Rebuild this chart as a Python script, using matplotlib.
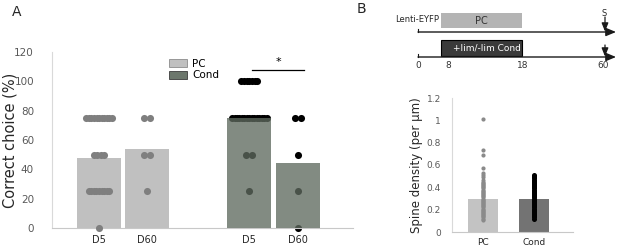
import matplotlib
matplotlib.use("Agg")
import matplotlib.pyplot as plt
import numpy as np
from matplotlib.patches import Rectangle, Patch

# ---------------- data ----------------
days = ["D5", "D60", "D5", "D60"]
groups = ["PC", "Cond"]
pc_means = [48, 54]
cond_means = [75, 44]
pc_d5 = [75]*11 + [50]*4 + [25]*9 + [0]
pc_d60 = [75, 75, 50, 50, 25]
cond_d5 = [100]*7 + [75]*15 + [50, 50, 25]
cond_d60 = [75, 75, 50, 25, 0]
sig_level = 108

time_labels = ["0", "8", "18", "60"]
spine_groups = ["PC", "Cond"]
spine_means = [0.30, 0.30]
spine_pc = [0.11, 0.12, 0.13, 0.14, 0.15, 0.16, 0.17, 0.18, 0.19, 0.20, 0.21,
            0.22, 0.23, 0.24, 0.25, 0.26, 0.27, 0.28, 0.29, 0.30, 0.31, 0.32,
            0.33, 0.34, 0.35, 0.36, 0.37, 0.38, 0.39, 0.40, 0.41, 0.42, 0.43,
            0.44, 0.45, 0.47, 0.49, 0.51, 0.53, 0.57, 0.69, 0.73, 1.01]
spine_cond = [0.12, 0.13, 0.14, 0.15, 0.16, 0.17, 0.18, 0.19, 0.20, 0.21,
              0.22, 0.23, 0.24, 0.25, 0.26, 0.27, 0.28, 0.29, 0.30, 0.31,
              0.32, 0.33, 0.34, 0.35, 0.36, 0.37, 0.38, 0.39, 0.40, 0.41,
              0.42, 0.43, 0.44, 0.45, 0.46, 0.47, 0.48, 0.49, 0.50, 0.51]

# ---------------- layout helpers ----------------
W, H = 617, 246
fig = plt.figure(figsize=(W/100, H/100), dpi=100)

def ax_px(x0, y0, x1, y1):
    return fig.add_axes([x0/W, 1-y1/H, (x1-x0)/W, (y1-y0)/H])

PC_BAR = "#c0c0c0"
PC_DOT = "#7f7f7f"
COND_BAR = "#5f6a5f"
TICK_COL = "#595959"
SPINE_COL = "#d9d9d9"

def swarm_offsets(vals):
    vals = np.asarray(vals, dtype=float)
    off = np.zeros_like(vals)
    for v in np.unique(vals):
        idx = np.where(vals == v)[0]
        n = len(idx)
        s = 0.05 + 0.3 / n**2
        off[idx] = (np.arange(n) - (n-1)/2) * s
    return off

# ---------------- Panel A ----------------
axA = ax_px(52, 52, 353, 228)
pos = [0, 1, 3.13, 4.15]
bw = 0.92
axA.bar(pos[:2], pc_means, width=bw, color=PC_BAR, zorder=1)
for p, d in zip(pos[:2], [pc_d5, pc_d60]):
    axA.scatter(p + swarm_offsets(d), d, s=26, color=PC_DOT, zorder=3, linewidths=0, clip_on=False)
for p, d in zip(pos[2:], [cond_d5, cond_d60]):
    axA.scatter(p + swarm_offsets(d), d, s=26, color="black", zorder=2, linewidths=0, clip_on=False)
axA.bar(pos[2:], cond_means, width=bw, color=COND_BAR, alpha=0.78, zorder=4)

axA.set_xlim(-0.98, 5.29)
axA.set_ylim(0, 120)
axA.set_yticks(range(0, 121, 20))
axA.set_xticks(pos)
axA.set_xticklabels(days)
axA.tick_params(axis="y", length=0, pad=13, labelsize=7.5, labelcolor=TICK_COL)
axA.tick_params(axis="x", length=0, pad=5, labelsize=7, labelcolor="#262626")
for s in ["top", "right"]:
    axA.spines[s].set_visible(False)
axA.spines["left"].set_color(SPINE_COL)
axA.spines["bottom"].set_color("#c8c8c8")
axA.set_ylabel("Correct choice (%)", fontsize=10.5, color="#262626")
axA.yaxis.set_label_coords(-0.113, 0.5)

axA.plot([pos[2] + 0.06, pos[3] + 0.12], [sig_level, sig_level], color="black", lw=0.9)
axA.text((pos[2] + pos[3]) / 2 + 0.09, sig_level + 1.5, "*", ha="center", va="bottom", fontsize=8)

handles = [Patch(facecolor=PC_BAR, edgecolor="#8c8c8c", lw=0.6),
           Patch(facecolor="#6c776c", edgecolor="#3c3c3c", lw=0.6)]
axA.legend(handles, groups, loc="upper left", bbox_to_anchor=(0.375, 0.985),
           frameon=False, fontsize=7.5, handlelength=1.7, handleheight=0.75,
           handletextpad=0.5, labelspacing=0.15, borderaxespad=0)

fig.text(12/W, 1-12/H, "A", fontsize=10, ha="left", va="center", color="#262626")
fig.text(357/W, 1-9/H, "B", fontsize=10, ha="left", va="center", color="#262626")

# ---------------- Panel B: timeline ----------------
axT = ax_px(370, 0, 617, 80)
axT.set_xlim(370, 617)
axT.set_ylim(80, 0)
axT.axis("off")
tpos = [418, 448, 523, 603]  # schematic positions of the time labels
box_l, box_r = 441, 522
for yl in [32, 57]:
    axT.annotate("", xy=(616, yl), xytext=(418, yl),
                 arrowprops=dict(arrowstyle="-|>,head_length=0.6,head_width=0.25",
                                 color="#1a1a1a", lw=1.0, shrinkA=0, shrinkB=0))
    axT.plot([418, 418], [yl - 3.5, yl], color="#1a1a1a", lw=0.8)
    axT.annotate("", xy=(605, yl - 0.5), xytext=(605, yl - 12 if yl == 57 else yl - 15),
                 arrowprops=dict(arrowstyle="-|>,head_length=0.5,head_width=0.2",
                                 color="#1a1a1a", lw=0.9, shrinkA=0, shrinkB=0))
axT.add_patch(Rectangle((box_l, 13), box_r - box_l, 15, facecolor="#b4b4b4", edgecolor="none"))
axT.text((box_l + box_r) / 2, 20.5, "PC", ha="center", va="center", fontsize=7, color="#333333")
axT.add_patch(Rectangle((box_l, 40), box_r - box_l, 16, facecolor="#3a3a3a", edgecolor="black", lw=0.8))
axT.text(487, 48, "+lim/-lim Cond", ha="center", va="center", fontsize=6.5, color="white")
axT.text(439, 19.5, "Lenti-EYFP", ha="right", va="center", fontsize=6, color="#262626")
axT.text(604, 13, "S", ha="center", va="center", fontsize=6, color="#262626")
for tp, tl in zip(tpos, time_labels):
    axT.text(tp, 65.5, tl, ha="center", va="center", fontsize=6.5, color="#333333")

# ---------------- Panel B: spine density ----------------
axB = ax_px(452, 98, 573, 232)
bpos = [0, 1]
axB.bar(bpos, spine_means, width=0.59, color=["#c3c3c3", "#737373"], zorder=1)
axB.scatter(np.full(len(spine_pc), bpos[0]), spine_pc, s=9, color="#8a8a8a", zorder=3, linewidths=0)
axB.scatter(np.full(len(spine_cond), bpos[1]), spine_cond, s=13, color="black", zorder=3, linewidths=0)
axB.set_xlim(-0.61, 1.76)
axB.set_ylim(0, 1.2)
axB.set_yticks([0, 0.2, 0.4, 0.6, 0.8, 1.0, 1.2])
axB.set_yticklabels(["0", "0.2", "0.4", "0.6", "0.8", "1", "1.2"])
axB.set_xticks(bpos)
axB.set_xticklabels(spine_groups)
axB.tick_params(axis="y", length=0, pad=8, labelsize=6.5, labelcolor=TICK_COL)
axB.tick_params(axis="x", length=0, pad=4, labelsize=6.5, labelcolor="#262626")
for s in ["top", "right"]:
    axB.spines[s].set_visible(False)
axB.spines["left"].set_color(SPINE_COL)
axB.spines["bottom"].set_color("#c8c8c8")
axB.set_ylabel("Spine density (per µm)", fontsize=8.5, color="#262626")
axB.yaxis.set_label_coords(-0.24, 0.5)

fig.savefig("out.png", dpi=100)
